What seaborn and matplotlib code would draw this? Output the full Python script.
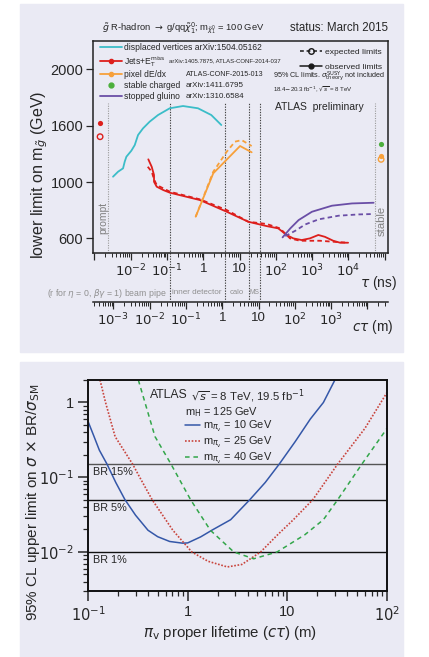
import numpy as np
import matplotlib
matplotlib.use("Agg")
import matplotlib.pyplot as plt
import matplotlib.transforms as mtrans
from matplotlib.lines import Line2D
from matplotlib.patches import Rectangle
from matplotlib.ticker import LogLocator, NullFormatter, NullLocator
import seaborn as sns

# ---- top panel: gluino R-hadron limits (tau in ns, mass in GeV) ----
dv_tau = [0.00325, 0.00447, 0.00614, 0.00682, 0.00759, 0.0104, 0.0129, 0.0159,
          0.0218, 0.0333, 0.0565, 0.119, 0.276, 0.714, 1.66, 3.14]
dv_mass = [1057, 1110, 1146, 1217, 1270, 1334, 1394, 1501,
           1572, 1629, 1676, 1724, 1740, 1724, 1676, 1605]

jets_obs_tau = [0.0305, 0.0378, 0.0438, 0.0438, 0.0520, 0.0791, 0.121, 0.811, 4.42,
                17.4, 55.8, 116, 198, 301, 513, 871, 1479, 2239, 3802, 5888, 9772]
jets_obs_mass = [1242, 1163, 1075, 1003, 967, 943, 924, 872, 789,
                 718, 687, 671, 624, 600, 588, 600, 624, 611, 583, 569, 569]
jets_exp_tau = [0.0294, 0.0380, 0.0438, 0.0520, 0.0791, 0.121, 0.811, 4.42,
                17.4, 55.8, 130, 245, 461, 1641, 3802, 9772]
jets_exp_mass = [1163, 1110, 1029, 979, 955, 931, 877, 801,
                 718, 702, 671, 600, 583, 583, 576, 569]

pix_obs_tau = [0.617, 1.88, 10.3, 21.5]
pix_obs_mass = [754, 1093, 1384, 1317]
pix_exp_tau = [0.617, 1.88, 4.42, 7.46, 11.4, 21.5]
pix_exp_mass = [754, 1110, 1323, 1430, 1447, 1384]

sg_obs_tau = [153, 250, 424, 986, 3508, 12470, 49320]
sg_obs_mass = [607, 671, 730, 789, 832, 848, 853]
sg_exp_tau = [182, 343, 647, 1507, 5358, 19050, 49320]
sg_exp_mass = [616, 654, 699, 735, 761, 770, 773]

prompt_tau = [0.00143]
prompt_obs = [1617]
prompt_exp = [1483]
stable_tau = [79400]
stable_charged = [1405]
stable_pix_obs = [1277]
stable_pix_exp = [1242]

# detector boundaries (tau in ns)
prompt_line = 0.00235
stable_line = 52500
detector_lines = [0.118, 4.04, 18.5, 37.0]

tau_ticks = [1e-3, 1e-2, 1e-1, 1, 10, 1e2, 1e3, 1e4, 1e5]
tau_labels = ["", "$10^{-2}$", "$10^{-1}$", "1", "10", "$10^{2}$", "$10^{3}$", "$10^{4}$", ""]
ctau_ticks = [1e-3, 1e-2, 1e-1, 1, 10, 1e2, 1e3, 1e4]
ctau_labels = ["$10^{-3}$", "$10^{-2}$", "$10^{-1}$", "1", "10", "$10^{2}$", "$10^{3}$", ""]
mass_ticks = [600, 1000, 1600, 2000]

legend_names = ["displaced vertices arXiv:1504.05162", r"Jets+E$_{\rm T}^{\rm miss}$", "pixel dE/dx",
                "stable charged", "stopped gluino"]
legend_refs = ["", "arXiv:1405.7875, ATLAS-CONF-2014-037", "ATLAS-CONF-2015-013",
               "arXiv:1411.6795", "arXiv:1310.6584"]

# ---- bottom panel: hidden valley pi_v limits ----
m10_ctau = [0.1, 0.115, 0.13, 0.155, 0.19, 0.235, 0.3, 0.4, 0.5, 0.66, 0.89, 1.0,
            1.35, 1.77, 2.7, 4.2, 6.0, 8.3, 12, 17, 23, 30]
m10_lim = [0.56, 0.35, 0.23, 0.15, 0.085, 0.05, 0.031, 0.0195, 0.016, 0.0138, 0.0131, 0.0132,
           0.0159, 0.0197, 0.027, 0.05, 0.085, 0.15, 0.3, 0.6, 1.0, 2.0]
m25_ctau = [0.132, 0.15, 0.187, 0.28, 0.33, 0.44, 0.71, 1.1, 1.6, 2.5, 3.5, 5.4,
            8, 11.5, 18, 32, 60, 100]
m25_lim = [2.0, 1.0, 0.35, 0.15, 0.1, 0.05, 0.0195, 0.01, 0.0075, 0.0063, 0.0068, 0.01,
           0.017, 0.027, 0.05, 0.15, 0.45, 1.36]
m40_ctau = [0.32, 0.47, 0.68, 1.07, 1.69, 2.9, 4.6, 7.9, 15, 23, 32, 56, 100]
m40_lim = [2.0, 0.35, 0.15, 0.05, 0.0195, 0.01, 0.0081, 0.01, 0.017, 0.027, 0.05, 0.15, 0.45]
br_levels = [0.15, 0.05, 0.01]
br_labels = ["BR 15%", "BR 5%", "BR 1%"]

CYAN, RED, ORANGE, GREEN, PURPLE = "#3bbdc8", "#dd1f1c", "#f7a03a", "#4caf3c", "#6a4ea6"
BLUE, RED2, GREEN2 = "#3457a8", "#c9443c", "#33a64a"
LAV = "#eaeaf4"

sns.set_theme(style="ticks")
plt.rcParams["font.family"] = ["Liberation Sans Narrow", "Liberation Sans", "DejaVu Sans"]
plt.rcParams["mathtext.fontset"] = "dejavusans"

W, H = 429, 657
fig = plt.figure(figsize=(W / 100, H / 100), dpi=100)
fig.patches.append(Rectangle((20 / W, 1 - 352 / H), 383 / W, 348 / H,
                             transform=fig.transFigure, color=LAV, zorder=-5))
fig.patches.append(Rectangle((20 / W, 0), 383 / W, 1 - 362 / H,
                             transform=fig.transFigure, color=LAV, zorder=-5))
R = fig.canvas.get_renderer()


def box(l, t, r, b):
    return [l / W, 1 - b / H, (r - l) / W, (b - t) / H]


def fitsize(s, width):
    # font size that gives the text the pixel width seen in the reference
    t = fig.text(0, 0, s, fontsize=10)
    w = t.get_window_extent(R).width
    t.remove()
    return 10 * width / w


def ftext(x, y, s, width, **kw):
    return fig.text(x / W, 1 - y / H, s, fontsize=fitsize(s, width), **kw)


# piecewise mass axis as printed on the original
km = [600, 1000, 1600, 2000]
ku = [0, 1, 2, 3]


def m2u(m):
    m = np.asarray(m, float)
    u = np.interp(m, km, ku)
    u = np.where(m < 600, (m - 600) / 400, u)
    return np.where(m > 2000, 3 + (m - 2000) / 400, u)


def u2m(u):
    u = np.asarray(u, float)
    m = np.interp(u, ku, km)
    m = np.where(u < 0, 600 + u * 400, m)
    return np.where(u > 3, 2000 + (u - 3) * 400, m)


# ================= top panel =================
ax1 = fig.add_axes(box(93, 40.7, 388, 253))
ax1.set_facecolor(LAV)
ax1.set_xscale("log")
ax1.set_yscale("function", functions=(m2u, u2m))
ax1.set_xlim(10 ** -3.04, 10 ** 5.09)
ax1.set_ylim(496, 2204)

lw = 1.3
dash = (0, (2.5, 1.8))
sns.lineplot(x=dv_tau, y=dv_mass, ax=ax1, color=CYAN, lw=lw, sort=False, estimator=None)
sns.lineplot(x=jets_obs_tau, y=jets_obs_mass, ax=ax1, color=RED, lw=lw, sort=False, estimator=None)
sns.lineplot(x=jets_exp_tau, y=jets_exp_mass, ax=ax1, color=RED, lw=lw, ls=dash,
             sort=False, estimator=None)
sns.lineplot(x=pix_obs_tau, y=pix_obs_mass, ax=ax1, color=ORANGE, lw=lw, sort=False, estimator=None)
sns.lineplot(x=pix_exp_tau, y=pix_exp_mass, ax=ax1, color=ORANGE, lw=lw, ls=dash,
             sort=False, estimator=None)
sns.lineplot(x=sg_obs_tau, y=sg_obs_mass, ax=ax1, color=PURPLE, lw=lw, sort=False, estimator=None)
sns.lineplot(x=sg_exp_tau, y=sg_exp_mass, ax=ax1, color=PURPLE, lw=lw, ls=dash,
             sort=False, estimator=None)

sns.scatterplot(x=prompt_tau, y=prompt_obs, ax=ax1, color=RED, s=14, linewidth=0)
sns.scatterplot(x=stable_tau, y=stable_charged, ax=ax1, color=GREEN, s=14, linewidth=0)
sns.scatterplot(x=stable_tau, y=stable_pix_obs, ax=ax1, color=ORANGE, s=14, linewidth=0)
for xv, yv, c in [(prompt_tau, prompt_exp, RED), (stable_tau, stable_pix_exp, ORANGE)]:
    sns.scatterplot(x=xv, y=yv, ax=ax1, s=16)
    coll = ax1.collections[-1]
    coll.set_facecolor("none")
    coll.set_edgecolor(c)
    coll.set_linewidth(1.0)

# detector region boundaries
y_top = (253 - 103) / (253 - 40.7)
y_low = -(302 - 253) / (253 - 40.7)
for xv in detector_lines:
    ax1.axvline(xv, ymin=y_low, ymax=y_top, color="#444444", lw=0.8, ls=(0, (1.2, 1.2)),
                clip_on=False, zorder=1)
for xv in [prompt_line, stable_line]:
    ax1.axvline(xv, ymin=0, ymax=y_top, color="#9a9a9a", lw=0.8, ls=(0, (1, 1.2)), zorder=1)
ax1.text(prompt_line, 0.165, "prompt", rotation=90, color="#808080", fontsize=fitsize("prompt", 32),
         ha="right", va="center", transform=ax1.get_xaxis_transform())
ax1.text(stable_line * 1.15, 0.15, "stable", rotation=90, color="#808080", fontsize=fitsize("stable", 30),
         ha="left", va="center", transform=ax1.get_xaxis_transform())

ax1.set_xticks(tau_ticks)
ax1.set_xticklabels(tau_labels)
ax1.xaxis.set_minor_locator(LogLocator(base=10, subs=np.arange(2, 10), numticks=100))
ax1.xaxis.set_minor_formatter(NullFormatter())
ax1.set_yticks(mass_ticks)
ax1.set_yticklabels([str(v) for v in mass_ticks])
ax1.yaxis.set_minor_locator(NullLocator())
ax1.tick_params(axis="x", which="major", direction="out", length=5, width=0.9, labelsize=9.5, pad=2)
ax1.tick_params(axis="x", which="minor", direction="out", length=3, width=0.7)
ax1.tick_params(axis="y", direction="out", length=5, width=0.9, labelsize=10.5, pad=2)
for sp in ax1.spines.values():
    sp.set_visible(True)
    sp.set_linewidth(1.1)
    sp.set_color("#222222")

sec = ax1.secondary_xaxis(y_low, functions=(lambda t: t * 0.29979, lambda c: c / 0.29979))
sec.set_xticks(ctau_ticks)
sec.set_xticklabels(ctau_labels)
sec.xaxis.set_minor_locator(LogLocator(base=10, subs=np.arange(2, 10), numticks=100))
sec.xaxis.set_minor_formatter(NullFormatter())
sec.tick_params(axis="x", which="major", direction="out", length=5, width=0.9, labelsize=9.5, pad=2)
sec.tick_params(axis="x", which="minor", direction="out", length=3, width=0.7)
sec.spines["bottom"].set_linewidth(1.1)

ftext(360, 283, r"$\tau$ (ns)", 37, va="center", ha="left")
ftext(352, 327, r"$c\tau$ (m)", 41, va="center", ha="left")
grey = "#909090"
ftext(47, 293, r"(r for $\eta$ = 0, $\beta\gamma$ = 1) beam pipe", 119, color=grey, va="center")
ftext(172, 293, "inner detector", 50, color=grey, va="center")
ftext(230, 293, "calo", 14, color=grey, va="center")
ftext(249.5, 293, "MS", 10, color=grey, va="center")

ftext(40, 175, r"lower limit on m$_{\tilde{g}}$ (GeV)", 168, rotation=90, ha="center", va="center")
ftext(102, 28, r"$\tilde{g}$ R-hadron $\rightarrow$ g/qq$\tilde{\chi}^0_1$; m$_{\tilde{\chi}^0_1}$ = 100 GeV",
      163, va="center")
ftext(388, 28, "status: March 2015", 98, ha="right", va="center")

# legends (top)
fs1 = fitsize(legend_names[0], 138)
px1 = fs1 * 100 / 72
h_left = [Line2D([], [], color=CYAN, lw=lw),
          Line2D([], [], color=RED, lw=lw, marker="o", ms=3),
          Line2D([], [], color=ORANGE, lw=lw, marker="o", ms=3),
          Line2D([], [], color=GREEN, lw=0, marker="o", ms=3.5),
          Line2D([], [], color=PURPLE, lw=lw)]
leg1 = ax1.legend(h_left, legend_names, loc="upper left", bbox_to_anchor=(100 / W, 1 - 43 / H),
                  bbox_transform=fig.transFigure, frameon=False, fontsize=fs1,
                  handlelength=22 / px1, handletextpad=2 / px1, labelspacing=0.2,
                  borderaxespad=0, borderpad=0)
ax1.add_artist(leg1)
fs2 = fitsize("expected limits", 56)
px2 = fs2 * 100 / 72
h_right = [Line2D([], [], color="k", lw=1.1, ls=dash, marker="o", ms=4, mfc="none"),
           Line2D([], [], color="k", lw=1.1, marker="o", ms=3.5)]
ax1.legend(h_right, ["expected limits", "observed limits"], loc="upper left",
           bbox_to_anchor=(300 / W, 1 - 48.5 / H), bbox_transform=fig.transFigure,
           frameon=False, fontsize=fs2, handlelength=22 / px2, handletextpad=3 / px2,
           labelspacing=0.75, borderaxespad=0, borderpad=0)

ftext(273, 77, r"95% CL limits. $\sigma^{\rm SUSY}_{\rm theory}$ not included", 112, va="center")
ftext(273, 89, r"18.4$-$20.3 fb$^{-1}$, $\sqrt{s}$ = 8 TeV", 78, va="center")
ftext(275, 107, "ATLAS  preliminary", 89, va="center")

# ================= bottom panel =================
ax2 = fig.add_axes(box(88, 380, 387, 591))
ax2.set_facecolor(LAV)
ax2.set_xscale("log")
ax2.set_yscale("log")
ax2.set_xlim(0.1, 100)
ax2.set_ylim(0.003, 2.0)

blend = mtrans.blended_transform_factory(ax2.transAxes, ax2.transData)
fs_br = fitsize("BR 15%", 40)
for yv, lab, c in zip(br_levels, br_labels, ["#555555", "#111111", "#111111"]):
    ax2.axhline(yv, color=c, lw=1.0, zorder=1)
    ax2.text(0.017, yv * 0.9, lab, fontsize=fs_br, va="top", ha="left", transform=blend)

sns.lineplot(x=m10_ctau, y=m10_lim, ax=ax2, color=BLUE, lw=1.1, sort=False, estimator=None)
sns.lineplot(x=m25_ctau, y=m25_lim, ax=ax2, color=RED2, lw=1.2, ls=(0, (1, 1)),
             sort=False, estimator=None)
sns.lineplot(x=m40_ctau, y=m40_lim, ax=ax2, color=GREEN2, lw=1.1, ls=(0, (3, 2.5)),
             sort=False, estimator=None)

ax2.set_xticks([0.1, 1, 10, 100])
ax2.set_xticklabels(["$10^{-1}$", "1", "10", "$10^{2}$"])
ax2.set_yticks([0.01, 0.1, 1])
ax2.set_yticklabels(["$10^{-2}$", "$10^{-1}$", "1"])
for a in [ax2.xaxis, ax2.yaxis]:
    a.set_minor_locator(LogLocator(base=10, subs=np.arange(2, 10), numticks=100))
    a.set_minor_formatter(NullFormatter())
ax2.tick_params(which="major", direction="out", length=7, width=1.1, labelsize=10.5, pad=3)
ax2.tick_params(which="minor", direction="out", length=3.5, width=0.9)
for sp in ax2.spines.values():
    sp.set_visible(True)
    sp.set_linewidth(1.4)
    sp.set_color("#111111")

ftext(150, 395, "ATLAS", 38, va="center")
ftext(191, 396, r"$\sqrt{s}$ = 8 TeV, 19.5 fb$^{-1}$", 113, va="center")
ftext(185, 412, r"m$_{\rm H}$ = 125 GeV", 73, va="center")
l_bot = [r"m$_{\pi_{\rm v}}$ = 10 GeV", r"m$_{\pi_{\rm v}}$ = 25 GeV", r"m$_{\pi_{\rm v}}$ = 40 GeV"]
fs3 = fitsize(l_bot[0], 69)
px3 = fs3 * 100 / 72
h_bot = [Line2D([], [], color=BLUE, lw=1.1),
         Line2D([], [], color=RED2, lw=1.2, ls=(0, (1, 1))),
         Line2D([], [], color=GREEN2, lw=1.1, ls=(0, (3, 2.5)))]
ax2.legend(h_bot, l_bot, loc="upper left", bbox_to_anchor=(185 / W, 1 - 419 / H),
           bbox_transform=fig.transFigure, frameon=False, fontsize=fs3,
           handlelength=15 / px3, handletextpad=3 / px3, labelspacing=0.1,
           borderaxespad=0, borderpad=0)

ftext(33, 502, r"95% CL upper limit on $\sigma$ $\times$ BR/$\sigma_{\rm SM}$", 238,
      rotation=90, ha="center", va="center")
ftext(230, 633, r"$\pi_{\rm v}$ proper lifetime ($c\tau$) (m)", 175, ha="center", va="center")

# put the references on the same rows as the legend entries
fig.canvas.draw()
for t, ref in zip(leg1.get_texts(), legend_refs):
    if not ref:
        continue
    bb = t.get_window_extent(R)
    yc = (bb.y0 + bb.y1) / 2 / fig.bbox.height
    if ref.startswith("arXiv:1405"):
        fig.text(169 / W, yc, ref, fontsize=fitsize(ref, 113), va="center")
    else:
        fig.text(186 / W, yc, ref, fontsize=fitsize(ref, 77 if "CONF" in ref else 58), va="center")

fig.savefig("out.png", dpi=100, facecolor="white")
